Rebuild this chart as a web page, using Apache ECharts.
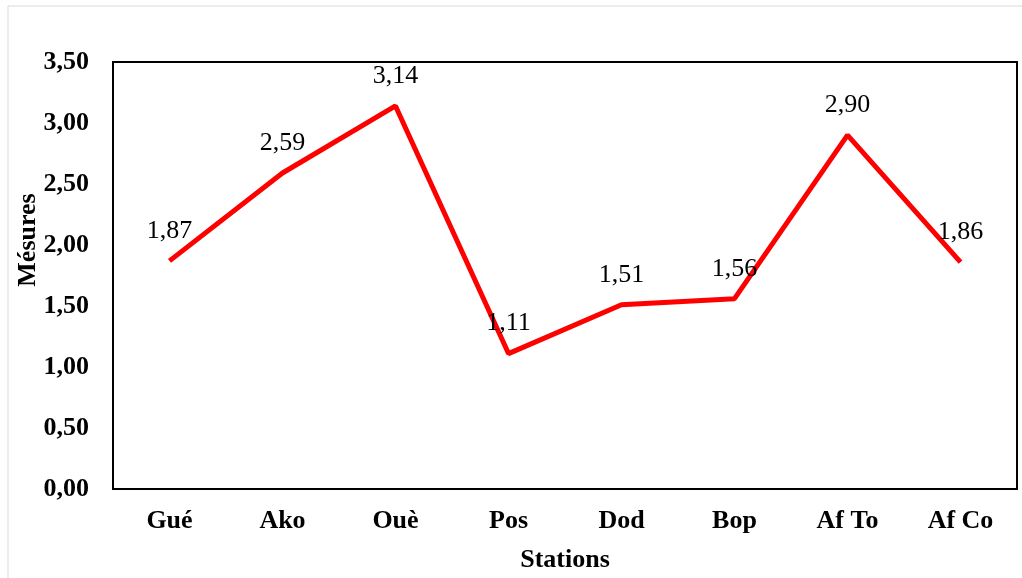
<!DOCTYPE html>
<html><head><meta charset="utf-8">
<script src="https://cdn.jsdelivr.net/npm/echarts@6/dist/echarts.min.js"></script>
<style>html,body{margin:0;padding:0;background:#fff}#c{width:1022px;height:578px}</style>
</head><body><div id="c"></div>
<script>
const categories = ['Gué','Ako','Ouè','Pos','Dod','Bop','Af To','Af Co'];
const values = [1.87, 2.59, 3.14, 1.11, 1.51, 1.56, 2.90, 1.86];
const yMin = 0, yMax = 3.5, yStep = 0.5;
const fmt = v => v.toFixed(2).replace('.', ',');
const F = '"Liberation Serif","Times New Roman",serif';
const chart = echarts.init(document.getElementById('c'));
chart.setOption({
  animation:false,
  backgroundColor:'#fff',
  grid:{left:113,right:5,top:62,bottom:85,show:true,borderColor:'#000',borderWidth:2,backgroundColor:'transparent'},
  graphic:[
    {type:'rect',shape:{x:8,y:6,width:1030,height:590},style:{fill:'none',stroke:'#d9d9d9',lineWidth:1},z:-1},
    {type:'text',x:28,y:240,rotation:Math.PI/2,style:{text:'Mésures',font:'bold 26px '+F,fill:'#000',align:'center',verticalAlign:'middle'}}
  ],
  xAxis:{type:'category',data:categories,name:'Stations',nameLocation:'middle',nameGap:58,
    nameTextStyle:{fontFamily:F,fontWeight:'bold',fontSize:26,color:'#000'},
    axisLine:{show:true,lineStyle:{color:'#000',width:2}},axisTick:{show:false},
    axisLabel:{fontFamily:F,fontWeight:'bold',fontSize:26,color:'#000',margin:19}},
  yAxis:{type:'value',min:yMin,max:yMax,interval:yStep,
    axisLine:{show:true,lineStyle:{color:'#000',width:2}},axisTick:{show:false},splitLine:{show:false},
    axisLabel:{fontFamily:F,fontWeight:'bold',fontSize:26,color:'#000',margin:24,formatter:v=>fmt(v)}},
  series:[{type:'line',data:values,symbol:'circle',symbolSize:2,showSymbol:true,
    itemStyle:{color:'rgba(255,0,0,0)',borderWidth:0},
    lineStyle:{color:'#ff0000',width:5},
    label:{show:true,position:'top',distance:16,fontFamily:F,fontSize:26,color:'#000',formatter:p=>fmt(p.value)},
    labelLayout:{hideOverlap:false}}]
});
</script></body></html>
